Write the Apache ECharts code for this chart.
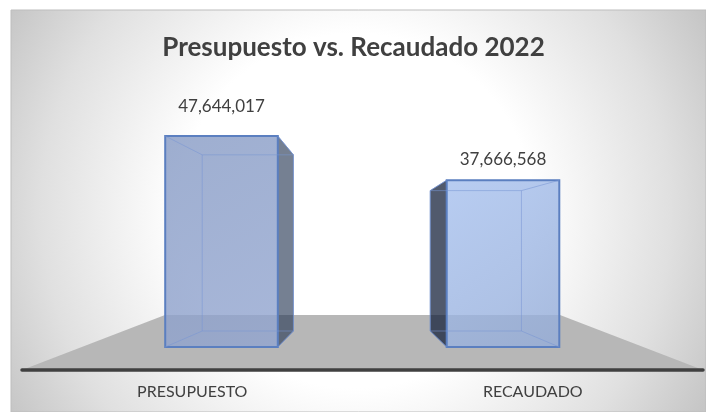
<!DOCTYPE html>
<html>
<head>
<meta charset="utf-8">
<style>html,body{margin:0;padding:0;background:#fff}#c{width:706px;height:412px}</style>
<script src="https://cdn.jsdelivr.net/npm/echarts@6/dist/echarts.min.js"></script>
</head>
<body>
<div id="c"></div>
<script>
const categories = ['PRESUPUESTO', 'RECAUDADO'];
const values = [47644017, 37666568];
const titleText = 'Presupuesto vs. Recaudado 2022';
const FONT = 'Lato, "Open Sans", sans-serif';

const chart = echarts.init(document.getElementById('c'), null, {renderer: 'canvas'});

function fmt(v){ return v.toLocaleString('en-US'); }

const looks = [
  {c0:'rgba(134,154,196,0.8)', c1:'rgba(146,165,208,0.8)', side:'rgba(45,62,90,0.66)', lab:30},
  {c0:'rgba(166,192,238,0.8)', c1:'rgba(148,172,216,0.8)', side:'rgba(20,32,58,0.74)', lab:21}
];

function renderBox(params, api){
  const i = params.dataIndex;
  const c = api.coord([api.value(0), api.value(1)]);
  const base = api.coord([api.value(0), 0]);
  const w = api.size([1, 0])[0] * 0.4;
  const L = c[0] - w/2, R = c[0] + w/2, T = c[1], B = base[1];
  const vx = 360, vy = 235, k = 0.19;
  const bL = L + (vx-L)*k, bR = R + (vx-R)*k, bT = T + (vy-T)*k, bB = B - 16;
  const look = looks[i];
  const inner = 'rgba(120,150,212,0.55)';
  const line = (x1,y1,x2,y2) => ({type:'line', shape:{x1,y1,x2,y2}, style:{stroke:inner, lineWidth:1}});
  const sidePts = i === 0
    ? [[R,T],[bR,bT],[bR,bB],[R,B]]
    : [[L,T],[bL,bT],[bL,bB],[L,B]];
  return {type:'group', children:[
    {type:'polygon', shape:{points:sidePts},
     style:{fill:look.side, stroke:'rgba(91,127,196,0.6)', lineWidth:1}},
    {type:'rect', shape:{x:L,y:T,width:R-L,height:B-T},
     style:{fill:{type:'linear',x:0,y:0,x2:1,y2:1,colorStops:[{offset:0,color:look.c0},{offset:1,color:look.c1}]},
       stroke:'#5b7fc0', lineWidth:2}},
    line(bL,bT,bL,bB), line(bR,bT,bR,bB), line(bL,bT,bR,bT), line(bL,bB,bR,bB),
    line(L,T,bL,bT), line(R,T,bR,bT), line(L,B,bL,bB), line(R,B,bR,bB),
    {type:'text', x:c[0], y:T-look.lab, style:{text:fmt(api.value(1)),
      font:'17px '+FONT, fill:'#404040', align:'center', verticalAlign:'middle'}}
  ]};
}

chart.setOption({
  animation:false,
  backgroundColor:'#ffffff',
  title:{text:titleText, left:348.5, top:30, textAlign:'center',
    textStyle:{fontFamily:FONT, fontSize:26, fontWeight:'bold', color:'#404040'}},
  graphic:[
    {type:'rect', z:0, shape:{x:11,y:10,width:695,height:402},
     style:{stroke:'#bdbdbd', lineWidth:1, fill:{type:'radial', x:0.496, y:0.5, r:1.1, global:false,
       colorStops:[{offset:0,color:'#ffffff'},{offset:0.4,color:'#ffffff'},{offset:0.71,color:'#e0e0e0'},{offset:0.9,color:'#c6c6c6'},{offset:1,color:'#c0c0c0'}]}}},
    {type:'polygon', z:1, shape:{points:[[22,370],[165,315],[560,315],[703,370]]},
     style:{fill:'#b7b7b7'}}
  ],
  grid:[
    {left:22, right:3, top:125.6, bottom:42},
    {left:80.75, width:563, top:125.6, bottom:65}
  ],
  xAxis:[
    {type:'category', gridIndex:0, data:categories, boundaryGap:true, z:5,
      axisTick:{show:false}, axisLine:{show:true, lineStyle:{color:'#404040', width:3.5, cap:'round'}},
      axisLabel:{color:'#404040', fontFamily:FONT, fontSize:16, margin:14}},
    {type:'category', gridIndex:1, data:categories, show:false}
  ],
  yAxis:[
    {type:'value', gridIndex:0, show:false, min:0, max:50000000},
    {type:'value', gridIndex:1, show:false, min:0, max:50000000}
  ],
  series:[{
    type:'custom', xAxisIndex:1, yAxisIndex:1, clip:false,
    renderItem:renderBox,
    data:categories.map((c,i)=>[i, values[i]]),
    encode:{x:0,y:1}
  }]
});
</script>
</body>
</html>
